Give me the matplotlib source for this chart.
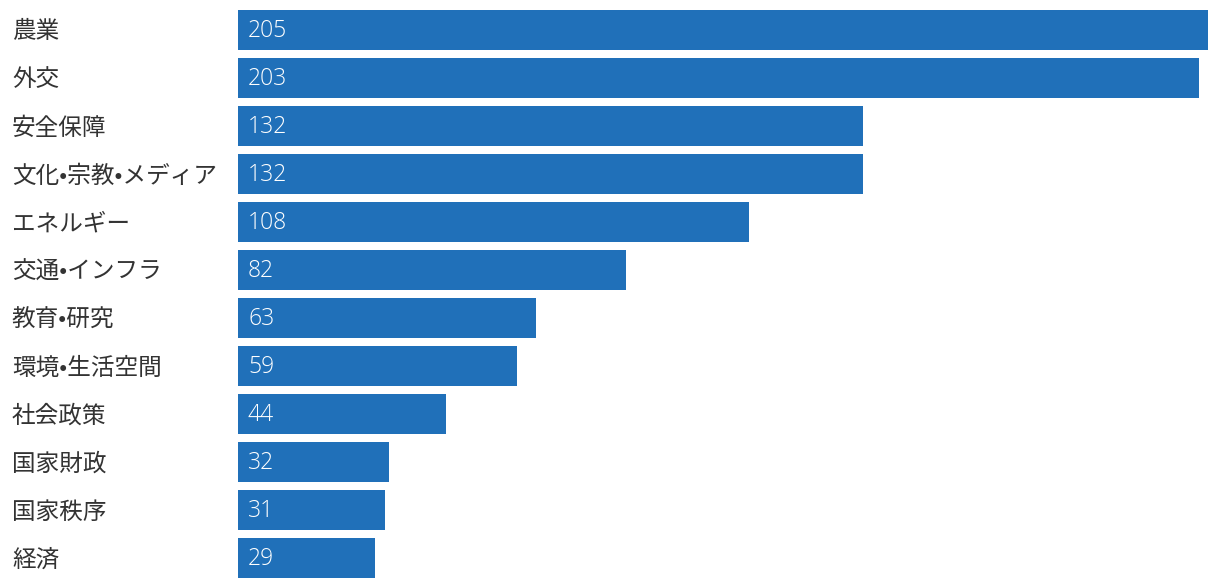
import matplotlib.pyplot as plt

plt.rcParams['font.family'] = ['Noto Sans CJK JP', 'DejaVu Sans']

categories = ["農業", "外交", "安全保障", "文化•宗教•メディア", "エネルギー", "交通•インフラ",
              "教育•研究", "環境•生活空間", "社会政策", "国家財政", "国家秩序", "経済"]
values = [205, 203, 132, 132, 108, 82, 63, 59, 44, 32, 31, 29]

W, H = 1220, 588
fig = plt.figure(figsize=(W / 100, H / 100), dpi=100)
ax = fig.add_axes([238 / W, (H - 582) / H, (1208 - 238) / W, 576 / H])

ypos = range(len(values))
ax.barh(ypos, values, height=40 / 48, color="#2070b9")
ax.set_xlim(0, 205)
ax.set_ylim(len(values) - 0.5, -0.5)
ax.axis("off")

# value inside the bar, category name at the left edge of the figure
for i, (c, v) in enumerate(zip(categories, values)):
    ax.annotate(str(v), (0, i), xytext=(10, -1), textcoords="offset pixels",
                va="center", ha="left", color="white", fontsize=16.5,
                family=["Open Sans", "DejaVu Sans"], fontweight="light")
    ax.annotate(c, (0, i), xycoords=("figure pixels", "data"), xytext=(12, -2),
                textcoords="offset pixels", va="center", ha="left",
                color="#333333", fontsize=17)

fig.savefig("out.png", dpi=100)
